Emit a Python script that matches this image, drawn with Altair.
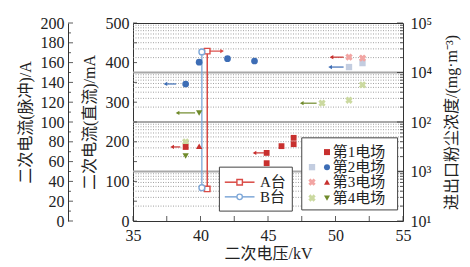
import math
import altair as alt
import pandas as pd

FONT = "Liberation Serif, Noto Sans CJK SC"
TXT = "#222222"
RED = "#c8302e"; BLUE = "#3d6db5"; GREEN = "#6f8a2a"
RED_L = "#f2a5a3"; BLUE_L = "#c3cde0"; GREEN_L = "#cbd9a0"
A_COL = "#d94a45"; B_COL = "#7fa8d8"
W, H = 270, 198

# ---------------- data ----------------
# dark markers: secondary current (DC, mA) vs secondary voltage (kV)
f1_kv = [38.9, 44.9, 44.9, 46.0, 46.9, 46.9]
f1_ma = [187, 172, 146, 189, 210, 194]
f2_kv = [39.9, 38.9, 42.0, 44.0]
f2_ma = [401, 346, 410, 404]
f3_kv = [39.9]
f3_ma = [189]
f4_kv = [39.9, 38.9]
f4_ma = [273, 164]

# light markers: dust concentration (position on the broken log axis, band units)
l2_kv = [51.0, 52.0]
l2_u = [3.11, 3.19]
l3_kv = [51.0, 52.0]
l3_u = [3.31, 3.29]
l4_kv = [52.0, 51.0, 49.0, 38.9]
l4_u = [2.75, 2.44, 2.38, 1.60]

# A / B units
a_kv = [40.5]; a_lo = [81]; a_hi = [429]
b_kv = [40.1]; b_lo = [84]; b_hi = [427]

# arrows on the mA scale
arr_head = [37.4, 38.3, 37.9, 44.0, 41.6]
arr_tail = [38.2, 39.6, 38.5, 44.7, 40.7]
arr_y = [346, 273, 187, 172, 429]
arr_col = [BLUE, GREEN, RED, RED, A_COL]
arr_dir = ["triangle-left"] * 4 + ["triangle-right"]
# arrows on the dust scale
darr_head = [49.7, 49.6, 47.5]
darr_tail = [50.6, 50.6, 48.6]
darr_u = [3.31, 3.11, 2.38]
darr_col = [RED, BLUE, GREEN]

# axis tick labels
x_ticks = [35, 40, 45, 50, 55]
ma_ticks = [0, 100, 200, 300, 400, 500]
a_ticks = list(range(0, 201, 20))
u_ticks = [0, 1, 2, 3, 4]
u_labels = ["10¹", "10³", "10²", "10⁴", "10⁵"]

# legends
leg1_names = ["A台", "B台"]
leg1_y = [98, 61]
leg2_names = ["第1电场", "第2电场", "第3电场", "第4电场"]
leg2_y = [174, 136, 98, 58]

# ---------------- scales & axes ----------------
xs = alt.Scale(domain=[35, 55], nice=False, zero=False)
ys_ma = alt.Scale(domain=[0, 500], nice=False, zero=False)
ys_a = alt.Scale(domain=[0, 200], nice=False, zero=False)
ys_u = alt.Scale(domain=[0, 4], nice=False, zero=False)

lab = dict(labelFont=FONT, labelFontSize=16, labelColor=TXT,
           titleFont=FONT, titleFontSize=16, titleFontWeight="normal", titleColor=TXT)

label_map = "[" + ",".join(f"'{s}'" for s in u_labels) + "]"
x_axis = alt.Axis(values=x_ticks, ticks=False, tickSize=0, domain=False, grid=False,
                  labelPadding=6, title="二次电压/kV", titlePadding=2, labelFlush=False, **lab)
left_axis = alt.Axis(orient="left", values=ma_ticks, ticks=False, tickSize=0, domain=False,
                     grid=False, labelPadding=4, title="二次电流(直流)/mA", titlePadding=8, **lab)
right_axis = alt.Axis(orient="right", values=u_ticks, ticks=False, tickSize=0, domain=False,
                      grid=False, labelPadding=7, labelAlign="left",
                      labelExpr=f"{label_map}[round(datum.value)]",
                      title="进出口粉尘浓度/(mg·m⁻³)", titleAngle=270, titleBaseline="top",
                      titlePadding=12, **lab)
outer_axis = alt.Axis(orient="left", values=a_ticks, offset=65, ticks=False, tickSize=0, domain=True,
                      domainColor="#333", domainWidth=1, grid=False, labelPadding=4,
                      title="二次电流(脉冲)/A", titlePadding=7, **lab)

def XN(f="kv"):
    return alt.X(f"{f}:Q", scale=xs, axis=x_axis)

def YM(f="y"):
    return alt.Y(f"{f}:Q", scale=ys_ma, axis=left_axis)

def YU(f="u"):
    return alt.Y(f"{f}:Q", scale=ys_u, axis=right_axis)

def YA(f="a"):
    return alt.Y(f"{f}:Q", scale=ys_a, axis=outer_axis)

# ---------------- dust (right, broken log) group ----------------
grid_u = [j + math.log10(k) for j in range(4) for k in range(2, 10)]
grid_df = pd.DataFrame({"u": grid_u})

grid = alt.Chart(grid_df).mark_rule(color="#8a8a8a", strokeDash=[1, 1.5], strokeWidth=0.8).encode(
    x=alt.value(0), x2=alt.value(W), y=YU())
band = alt.Chart(pd.DataFrame({"u": [1, 2, 3]})).mark_rule(color="#a8a8a8", strokeWidth=2).encode(
    x=alt.value(0), x2=alt.value(W), y=YU())
rt_minor = alt.Chart(grid_df).mark_rule(color="#333", strokeWidth=0.8).encode(
    x=alt.value(W - 3), x2=alt.value(W), y=YU())
rt_major = alt.Chart(pd.DataFrame({"u": u_ticks})).mark_rule(color="#333", strokeWidth=0.8).encode(
    x=alt.value(W - 6), x2=alt.value(W), y=YU())

l2 = alt.Chart(pd.DataFrame({"kv": l2_kv, "u": l2_u})).mark_point(
    shape="square", filled=True, color=BLUE_L, size=40, opacity=1).encode(x=XN(), y=YU())
l3 = alt.Chart(pd.DataFrame({"kv": l3_kv, "u": l3_u})).mark_point(
    shape="cross", angle=45, filled=True, color=RED_L, size=55, opacity=1).encode(x=XN(), y=YU())
l4 = alt.Chart(pd.DataFrame({"kv": l4_kv, "u": l4_u})).mark_point(
    shape="cross", angle=45, filled=True, color=GREEN_L, size=55, opacity=1).encode(x=XN(), y=YU())

darr_df = pd.DataFrame({"h": darr_head, "t": darr_tail, "u": darr_u, "c": darr_col})
darr_line = alt.Chart(darr_df).mark_rule(strokeWidth=1.2).encode(
    x=XN("h"), x2="t:Q", y=YU(), color=alt.Color("c:N", scale=None))
darr_head_m = alt.Chart(darr_df).mark_point(shape="triangle-left", filled=True, size=18, opacity=1).encode(
    x=XN("h"), y=YU(), color=alt.Color("c:N", scale=None))

dust_group = alt.layer(grid, band, rt_minor, rt_major, l2, l3, l4, darr_line, darr_head_m)

# ---------------- mA (left inner) group ----------------
bt = alt.Chart(pd.DataFrame({"kv": [35 + 2.5 * i for i in range(9)]})).mark_rule(
    color="#333", strokeWidth=0.8).encode(x=XN(), y=alt.value(H - 5), y2=alt.value(H))
lt = alt.Chart(pd.DataFrame({"y": list(range(0, 501, 50))})).mark_rule(
    color="#333", strokeWidth=0.8).encode(x=alt.value(0), x2=alt.value(4), y=YM())

a_df = pd.DataFrame({"kv": a_kv, "lo": a_lo, "hi": a_hi})
b_df = pd.DataFrame({"kv": b_kv, "lo": b_lo, "hi": b_hi})
a_line = alt.Chart(a_df).mark_rule(color=A_COL, strokeWidth=1.5).encode(x=XN(), y=YM("lo"), y2="hi:Q")
b_line = alt.Chart(b_df).mark_rule(color=B_COL, strokeWidth=1.3).encode(x=XN(), y=YM("lo"), y2="hi:Q")
a_end = alt.Chart(pd.DataFrame({"kv": a_kv * 2, "y": a_lo + a_hi})).mark_point(
    shape="square", size=30, fill="white", stroke=A_COL, strokeWidth=1.4, opacity=1, fillOpacity=1
).encode(x=XN(), y=YM())
b_end = alt.Chart(pd.DataFrame({"kv": b_kv * 2, "y": b_lo + b_hi})).mark_point(
    shape="circle", size=34, fill="white", stroke=B_COL, strokeWidth=1.4, opacity=1, fillOpacity=1
).encode(x=XN(), y=YM())

arr_df = pd.DataFrame({"h": arr_head, "t": arr_tail, "y": arr_y, "c": arr_col, "s": arr_dir})
arr_line = alt.Chart(arr_df).mark_rule(strokeWidth=1.2).encode(
    x=XN("h"), x2="t:Q", y=YM(), color=alt.Color("c:N", scale=None))
arr_hl = alt.Chart(arr_df).mark_point(filled=True, size=18, opacity=1).encode(
    x=XN("h"), y=YM(), color=alt.Color("c:N", scale=None), shape=alt.Shape("s:N", scale=None))

d1 = alt.Chart(pd.DataFrame({"kv": f1_kv, "y": f1_ma})).mark_point(
    shape="square", filled=True, color=RED, size=34, opacity=1).encode(x=XN(), y=YM())
d2 = alt.Chart(pd.DataFrame({"kv": f2_kv, "y": f2_ma})).mark_point(
    shape="circle", filled=True, color=BLUE, size=45, opacity=1).encode(x=XN(), y=YM())
d3 = alt.Chart(pd.DataFrame({"kv": f3_kv, "y": f3_ma})).mark_point(
    shape="triangle-up", filled=True, color=RED, size=40, opacity=1).encode(x=XN(), y=YM())
d4 = alt.Chart(pd.DataFrame({"kv": f4_kv, "y": f4_ma})).mark_point(
    shape="triangle-down", filled=True, color=GREEN, size=40, opacity=1).encode(x=XN(), y=YM())

# legend 1 (A台 / B台)
box1 = alt.Chart(pd.DataFrame({"x1": [41.4], "x2": [46.8], "y1": [25], "y2": [136]})).mark_rect(
    fill="white", stroke="#444", strokeWidth=1).encode(x=XN("x1"), x2="x2:Q", y=YM("y1"), y2="y2:Q")
lg1 = pd.DataFrame({"x1": [41.8, 41.8], "x2": [44.0, 44.0], "xm": [42.9, 42.9], "xt": [44.4, 44.4],
                    "y": leg1_y, "name": leg1_names, "c": [A_COL, B_COL], "s": ["square", "circle"]})
lg1_line = alt.Chart(lg1).mark_rule(strokeWidth=1.5).encode(
    x=XN("x1"), x2="x2:Q", y=YM(), color=alt.Color("c:N", scale=None))
lg1_pt = alt.Chart(lg1).mark_point(size=30, fill="white", strokeWidth=1.4, opacity=1, fillOpacity=1).encode(
    x=XN("xm"), y=YM(), stroke=alt.Stroke("c:N", scale=None), shape=alt.Shape("s:N", scale=None))
lg1_txt = alt.Chart(lg1).mark_text(font=FONT, fontSize=15, align="left", baseline="middle", color=TXT).encode(
    x=XN("xt"), y=YM(), text="name:N")

# legend 2 (fields)
box2 = alt.Chart(pd.DataFrame({"x1": [47.5], "x2": [54.6], "y1": [28], "y2": [210]})).mark_rect(
    fill="white", stroke="#444", strokeWidth=1).encode(x=XN("x1"), x2="x2:Q", y=YM("y1"), y2="y2:Q")
lg2 = pd.DataFrame({"xd": [49.37] * 4, "xt": [49.8] * 4, "y": leg2_y, "name": leg2_names,
                    "c": [RED, BLUE, RED, GREEN],
                    "s": ["square", "circle", "triangle-up", "triangle-down"]})
lg2_dark = alt.Chart(lg2).mark_point(filled=True, size=36, opacity=1).encode(
    x=XN("xd"), y=YM(), color=alt.Color("c:N", scale=None), shape=alt.Shape("s:N", scale=None))
lg2_txt = alt.Chart(lg2).mark_text(font=FONT, fontSize=15, align="left", baseline="middle", color=TXT).encode(
    x=XN("xt"), y=YM(), text="name:N")
lg2_l2 = alt.Chart(pd.DataFrame({"kv": [48.26], "y": [leg2_y[1]]})).mark_point(
    shape="square", filled=True, color=BLUE_L, size=40, opacity=1).encode(x=XN(), y=YM())
lg2_lx = alt.Chart(pd.DataFrame({"kv": [48.26, 48.26], "y": leg2_y[2:], "c": [RED_L, GREEN_L]})).mark_point(
    shape="cross", angle=45, filled=True, size=55, opacity=1).encode(
    x=XN(), y=YM(), color=alt.Color("c:N", scale=None))

ma_group = alt.layer(bt, lt, a_line, b_line, a_end, b_end, arr_line, arr_hl, d1, d2, d3, d4,
                     box1, lg1_line, lg1_pt, lg1_txt, box2, lg2_l2, lg2_lx, lg2_dark, lg2_txt)

# ---------------- pulse current (left outer) group ----------------
at_major = alt.Chart(pd.DataFrame({"a": a_ticks})).mark_rule(color="#333", strokeWidth=0.8).encode(
    x=alt.value(-65), x2=alt.value(-60), y=YA())
at_minor = alt.Chart(pd.DataFrame({"a": list(range(10, 200, 20))})).mark_rule(
    color="#333", strokeWidth=0.8).encode(x=alt.value(-65), x2=alt.value(-62), y=YA())
a_group = alt.layer(at_major, at_minor)

chart = alt.layer(dust_group, ma_group, a_group).resolve_scale(y="independent").properties(
    width=W, height=H,
    padding={"left": 133, "top": 23, "right": 470 - 133 - W, "bottom": 267 - 23 - H},
    autosize=alt.AutoSizeParams(type="none"),
    background="white",
).configure_view(stroke="#333", strokeWidth=1)

chart.save("out.html", embed_options={"renderer": "svg", "actions": False})
